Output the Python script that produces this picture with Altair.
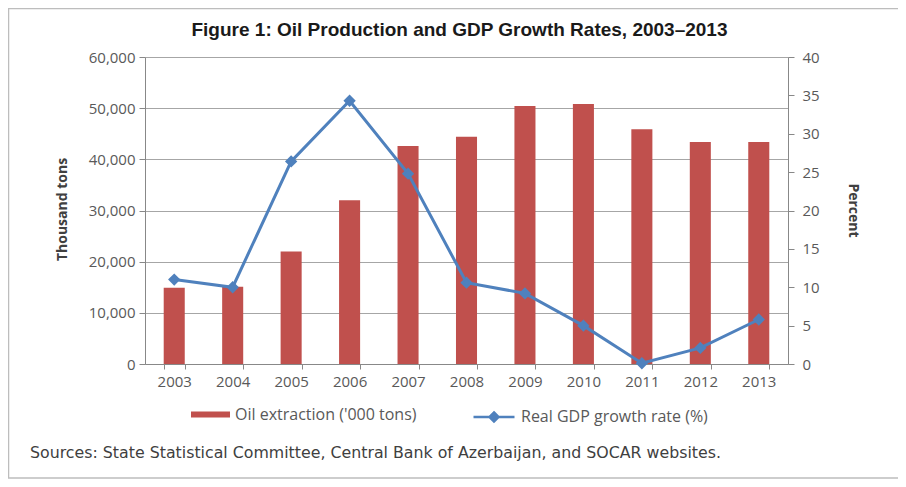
import altair as alt
import pandas as pd

years = ["2003", "2004", "2005", "2006", "2007", "2008", "2009", "2010", "2011", "2012", "2013"]
oil = [14900, 15100, 22000, 32000, 42600, 44400, 50400, 50800, 45900, 43400, 43400]
gdp = [11.0, 10.0, 26.4, 34.3, 24.8, 10.6, 9.2, 5.0, 0.1, 2.1, 5.8]
bar_label = "Oil extraction ('000 tons)"
line_label = "Real GDP growth rate (%)"
title_text = "Figure 1: Oil Production and GDP Growth Rates, 2003\u20132013"
source_text = "Sources: State Statistical Committee, Central Bank of Azerbaijan, and SOCAR websites."

df = pd.DataFrame({"year": years, "oil": oil, "gdp": gdp})
df["s1"] = bar_label
df["s2"] = line_label

W, H = 643, 307
LBL = "Open Sans"
TXT = "#595959"

x_enc = alt.X("year:N", title=None, sort=years,
              scale=alt.Scale(paddingInner=0.64, paddingOuter=0.32),
              axis=alt.Axis(labelAngle=0, labelFont=LBL, labelFontSize=15, labelColor=TXT,
                            labelPadding=5, tickSize=5, tickColor="#888888",
                            domainColor="#888888", tickBand="extent", grid=False))

base = alt.Chart(df)

bars = base.mark_bar(opacity=1).encode(
    x=x_enc,
    y=alt.Y("oil:Q", title="Thousand tons",
            scale=alt.Scale(domain=[0, 60000], nice=False),
            axis=alt.Axis(values=[0, 10000, 20000, 30000, 40000, 50000, 60000],
                          labelExpr="format(datum.value, ',')",
                          labelFont=LBL, labelFontSize=15, labelColor=TXT, labelPadding=4,
                          tickSize=6, tickColor="#888888", domainColor="#888888",
                          grid=True, gridColor="#a6a6a6", gridWidth=1,
                          titleFont=LBL, titleFontSize=14, titleFontWeight="bold", titleColor="#404040",
                          titleX=-83, titleY=152, titleAngle=270, titleAlign="center",
                          titleBaseline="middle")),
    color=alt.Color("s1:N", scale=alt.Scale(domain=[bar_label], range=["#C0504D"]),
                    legend=alt.Legend(title=None, orient="none", legendX=46, legendY=338,
                                      padding=0, symbolType="M-1,-0.16H1V0.16H-1Z",
                                      symbolSize=1521, symbolStrokeWidth=0, symbolOpacity=1,
                                      labelFont=LBL, labelFontSize=16, labelColor=TXT,
                                      labelOffset=5, labelLimit=400)),
)

line = base.mark_line(strokeWidth=3,
                      point=alt.OverlayMarkDef(shape="diamond", size=90, filled=True,
                                               fill="#4F81BD", color="#4F81BD")).encode(
    x=alt.X("year:N", sort=years),
    y=alt.Y("gdp:Q", title="Percent",
            scale=alt.Scale(domain=[0, 40], nice=False),
            axis=alt.Axis(orient="right", values=[0, 5, 10, 15, 20, 25, 30, 35, 40],
                          labelFont=LBL, labelFontSize=15, labelColor=TXT, labelPadding=8,
                          tickSize=6, tickColor="#888888", domainColor="#888888", grid=False,
                          titleFont=LBL, titleFontSize=14, titleFontWeight="bold", titleColor="#404040",
                          titleX=64, titleY=153, titleAngle=90, titleAlign="center",
                          titleBaseline="middle")),
    stroke=alt.Stroke("s2:N", scale=alt.Scale(domain=[line_label], range=["#4F81BD"]),
                      legend=alt.Legend(title=None, orient="none", legendX=327, legendY=338,
                                        padding=0,
                                        symbolType="M-1,0H1M0,-0.22L0.22,0L0,0.22L-0.22,0Z",
                                        symbolSize=1681, symbolStrokeWidth=2.5,
                                        symbolFillColor="#4F81BD", symbolOpacity=1,
                                        labelFont=LBL, labelFontSize=16, labelColor=TXT,
                                        labelOffset=5, labelLimit=400)),
)

src = alt.Chart(pd.DataFrame({"t": [source_text]})).mark_text(
    align="left", baseline="middle", font="DejaVu Sans", fontSize=15.8, color="#404040"
).encode(text="t:N", x=alt.value(-115), y=alt.value(396))

frame = alt.Chart(pd.DataFrame({"k": [0]})).mark_rect(
    fill=None, stroke="#bdbdbd", strokeWidth=1.5, clip=False
).encode(x=alt.value(-136.5), x2=alt.value(780), y=alt.value(-48.5), y2=alt.value(421))

chart = alt.layer(frame, bars, line, src).resolve_scale(
    y="independent", color="independent", stroke="independent"
).properties(
    width=W, height=H,
    title=alt.TitleParams(title_text, font="Liberation Sans", fontSize=19, fontWeight="bold",
                          color="#1a1a1a", anchor="middle", offset=-32, dx=-7),
    autosize=alt.AutoSizeParams(type="none"),
    padding={"left": 137, "top": 49, "right": 110, "bottom": 115},
).configure_view(stroke=None).configure(background="white")

chart.save("out.html", embed_options={"renderer": "svg", "actions": False})
